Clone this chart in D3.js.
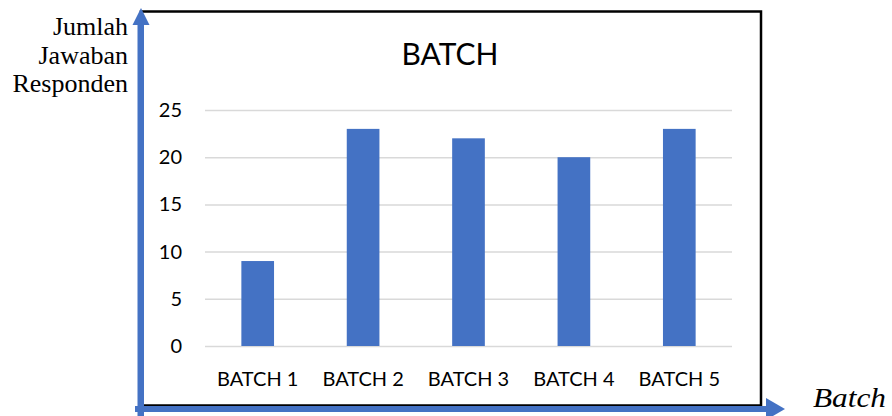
<!DOCTYPE html>
<html>
<head>
<meta charset="utf-8">
<script src="https://cdn.jsdelivr.net/npm/d3@7"></script>
<style>
  body { margin: 0; background: #fff; }
  svg { display: block; }
</style>
</head>
<body>
<svg id="chart" width="892" height="416"></svg>
<script>
const categories = ['BATCH 1', 'BATCH 2', 'BATCH 3', 'BATCH 4', 'BATCH 5']
const values = [9, 23, 22, 20, 23]
const yTicks = [0, 5, 10, 15, 20, 25]
const chartTitle = 'BATCH'
const yLabelLines = ['Jumlah', 'Jawaban', 'Responden']
const xLabel = 'Batch'

const blue = '#4472c4'
const sans = 'Lato, Carlito, Calibri, sans-serif'
const serif = '"Liberation Serif", "Times New Roman", serif'

const svg = d3.select('#chart')

const x = d3.scaleBand()
  .domain(categories)
  .range([205, 732])
const y = d3.scaleLinear()
  .domain([0, 25])
  .range([346, 110])

// chart frame
svg.append('rect')
  .attr('x', 141)
  .attr('y', 11.5)
  .attr('width', 620)
  .attr('height', 394)
  .attr('fill', 'none')
  .attr('stroke', '#000')
  .attr('stroke-width', 2.5)

// title
svg.append('text')
  .attr('x', 450)
  .attr('y', 65)
  .attr('text-anchor', 'middle')
  .attr('font-family', sans)
  .attr('font-size', 30)
  .attr('fill', '#000')
  .text(chartTitle)

// grid + y labels
const yAxis = svg.append('g')
  .attr('transform', 'translate(205,0)')
  .call(d3.axisLeft(y)
    .tickValues(yTicks)
    .tickSize(-(732 - 205))
    .tickPadding(23))
yAxis.select('.domain').remove()
yAxis.selectAll('line')
  .attr('stroke', '#d9d9d9')
  .attr('stroke-width', 1.5)
yAxis.selectAll('text')
  .attr('font-family', sans)
  .attr('font-size', 20)
  .attr('fill', '#000')

// bars
const barW = x.bandwidth() * 0.31
svg.append('g')
  .selectAll('rect')
  .data(values)
  .enter().append('rect')
  .attr('x', (d, i) => x(categories[i]) + (x.bandwidth() - barW) / 2)
  .attr('y', (d) => y(d))
  .attr('width', barW)
  .attr('height', (d) => y(0) - y(d))
  .attr('fill', blue)

// x labels
const xAxis = svg.append('g')
  .attr('transform', 'translate(0,346)')
  .call(d3.axisBottom(x).tickSize(0).tickPadding(26))
xAxis.select('.domain').remove()
xAxis.selectAll('text')
  .attr('font-family', sans)
  .attr('font-size', 20)
  .attr('fill', '#000')

// arrows
svg.append('rect')
  .attr('x', 137.5).attr('y', 24)
  .attr('width', 6.5).attr('height', 392)
  .attr('fill', blue)
svg.append('path')
  .attr('d', 'M132.5,25 L149.5,25 L141,8 Z')
  .attr('fill', blue)
svg.append('rect')
  .attr('x', 135).attr('y', 406)
  .attr('width', 632).attr('height', 6)
  .attr('fill', blue)
svg.append('path')
  .attr('d', 'M766,398 L766,420 L785,409 Z')
  .attr('fill', blue)

// axis captions
svg.append('text')
  .attr('text-anchor', 'end')
  .attr('font-family', serif)
  .attr('font-size', 26)
  .attr('fill', '#000')
  .selectAll('tspan')
  .data(yLabelLines)
  .enter().append('tspan')
  .attr('x', 128)
  .attr('y', (d, i) => 35 + i * 28.5)
  .text((d) => d)

svg.append('text')
  .attr('x', 813)
  .attr('y', 407)
  .attr('font-family', serif)
  .attr('font-style', 'italic')
  .attr('font-size', 28)
  .attr('textLength', 73)
  .attr('lengthAdjust', 'spacingAndGlyphs')
  .attr('fill', '#000')
  .text(xLabel)
</script>
</body>
</html>
